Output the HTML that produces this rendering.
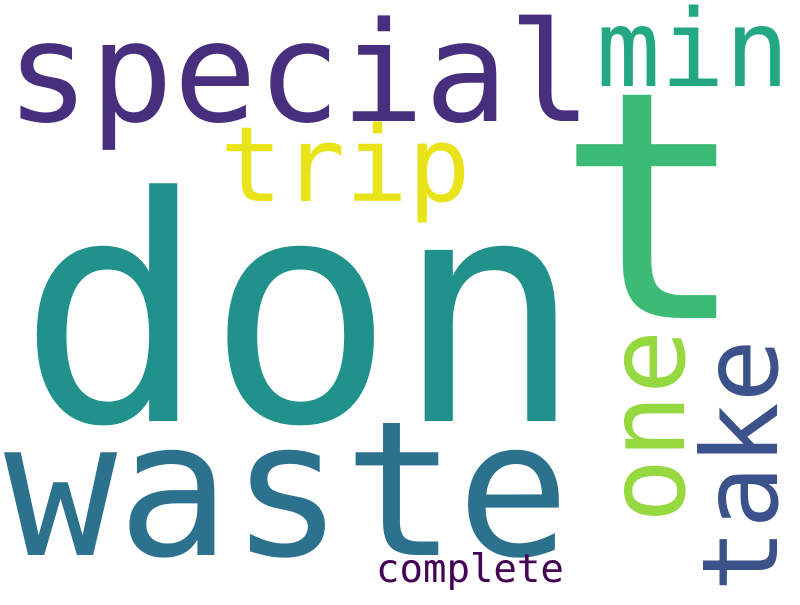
<!DOCTYPE html>
<html><head><meta charset="utf-8"><style>
html,body{margin:0;padding:0;background:#fff;}
svg text{font-family:"DejaVu Sans Mono","Liberation Mono",monospace;}
</style></head><body>
<svg width="800" height="600" viewBox="0 0 800 600">
<rect width="800" height="600" fill="#fff"/>
<text x="6" y="121" font-size="139" fill="#472f7d">special</text>
<text x="596" y="86" font-size="107" fill="#23a883">min</text>
<text x="220" y="201" font-size="104" fill="#e8e419">trip</text>
<text x="556" y="318" font-size="318" fill="#3bbb75">t</text>
<text x="18" y="421" font-size="313" fill="#21918c">don</text>
<text x="4" y="555" font-size="188" fill="#2c718e">waste</text>
<text x="0" y="0" font-size="107" fill="#95d840" transform="translate(684,523) rotate(-90)">one</text>
<text x="0" y="0" font-size="105" fill="#3b528b" transform="translate(777,592) rotate(-90)">take</text>
<text x="376" y="582" font-size="39" fill="#440154">complete</text>
</svg>
</body></html>
